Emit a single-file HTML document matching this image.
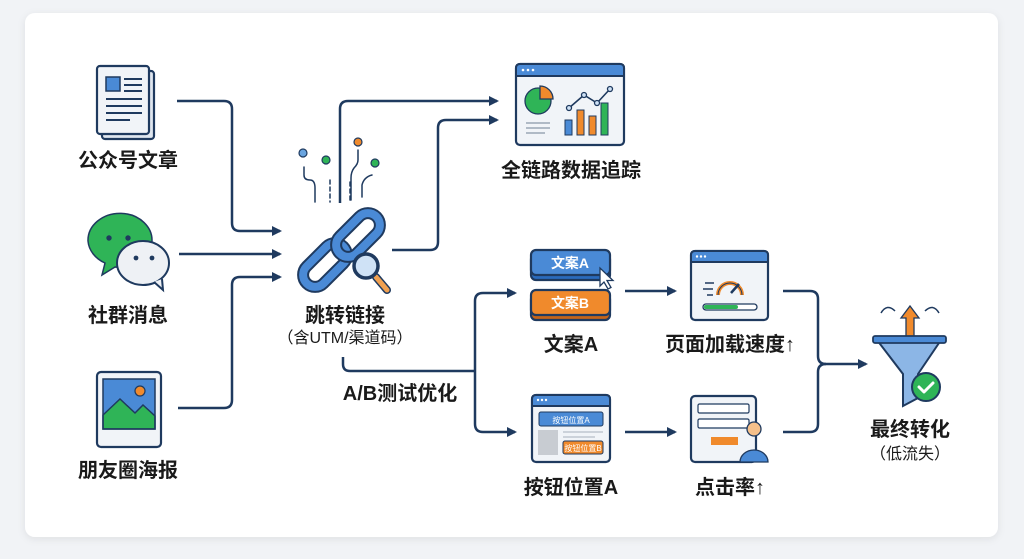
<!DOCTYPE html>
<html><head><meta charset="utf-8"><style>
html,body{margin:0;padding:0;background:#f1f3f6;}
svg{display:block;}
text{font-family:"Liberation Sans","Noto Sans CJK SC",sans-serif;fill:#1a1a1a;text-anchor:middle;}
.b{font-weight:bold;font-size:20px;}
.s{font-size:16px;}
.ln{fill:none;stroke:#1f3a5f;stroke-width:2.5;stroke-linejoin:round;}
.ol{stroke:#1f3a5f;stroke-width:2.2;}
</style></head><body>
<svg width="1024" height="559" viewBox="0 0 1024 559" xmlns="http://www.w3.org/2000/svg">
<defs>
<marker id="a" markerWidth="10" markerHeight="10" refX="8" refY="5" orient="auto" markerUnits="userSpaceOnUse"><path d="M0,0 L10,5 L0,10 Z" fill="#1f3a5f"/></marker>
<filter id="sh" x="-5%" y="-5%" width="110%" height="110%"><feDropShadow dx="0" dy="2" stdDeviation="4" flood-color="#000" flood-opacity="0.08"/></filter>
</defs>
<rect x="25" y="13" width="973" height="524" rx="10" fill="#fff" filter="url(#sh)"/>

<!-- connectors -->
<path class="ln" d="M177,101 H224 Q232,101 232,109 V223 Q232,231 240,231 H280" marker-end="url(#a)"/>
<path class="ln" d="M179,254 H280" marker-end="url(#a)"/>
<path class="ln" d="M178,408 H224 Q232,408 232,400 V285 Q232,277 240,277 H280" marker-end="url(#a)"/>
<path class="ln" d="M340,203 V109 Q340,101 348,101 H497" marker-end="url(#a)"/>
<path class="ln" d="M392,250 H430 Q438,250 438,242 V128 Q438,120 446,120 H497" marker-end="url(#a)"/>
<path class="ln" d="M343,357 V364 Q343,371 350,371 H475"/>
<path class="ln" d="M475,424 Q475,432 483,432 H515" marker-end="url(#a)"/>
<path class="ln" d="M475,424 V301 Q475,293 483,293 H515" marker-end="url(#a)"/>
<path class="ln" d="M625,291 H675" marker-end="url(#a)"/>
<path class="ln" d="M625,432 H675" marker-end="url(#a)"/>
<path class="ln" d="M783,291 H810 Q818,291 818,299 V356 Q818,364 826,364 H866" marker-end="url(#a)"/>
<path class="ln" d="M783,432 H810 Q818,432 818,424 V372 Q818,364 826,364"/>

<!-- doc icon -->
<rect x="102" y="71" width="52" height="68" rx="3" fill="#dfe6ef" class="ol"/>
<rect x="97" y="66" width="52" height="68" rx="3" fill="#f1f4f8" class="ol"/>
<rect x="106" y="77" width="14" height="14" fill="#4a8ad6" stroke="#1f3a5f" stroke-width="1.5"/>
<g stroke="#1f3a5f" stroke-width="2"><line x1="124" y1="79" x2="142" y2="79"/><line x1="124" y1="85" x2="142" y2="85"/><line x1="124" y1="91" x2="142" y2="91"/><line x1="106" y1="99" x2="142" y2="99"/><line x1="106" y1="106" x2="142" y2="106"/><line x1="106" y1="113" x2="142" y2="113"/><line x1="106" y1="120" x2="130" y2="120"/></g>
<text class="b" x="128" y="167">公众号文章</text>

<!-- chat icon -->
<path d="M88,241 a32,27 0 1 1 27,26 l-13,8 l3,-12 a32,27 0 0 1 -17,-22z" fill="#2fb457" stroke="#1f3a5f" stroke-width="1.5"/>
<circle cx="109" cy="238" r="2.7" fill="#1f3a5f"/><circle cx="128" cy="238" r="2.7" fill="#1f3a5f"/>
<ellipse cx="143" cy="263" rx="26" ry="22" fill="#eef1f5" stroke="#1f3a5f" stroke-width="2"/>
<path d="M154,282 l9,8 l-1,-11" fill="#eef1f5" stroke="#1f3a5f" stroke-width="2"/>
<circle cx="136" cy="258" r="2.4" fill="#1f3a5f"/><circle cx="152" cy="258" r="2.4" fill="#1f3a5f"/>
<text class="b" x="128" y="322">社群消息</text>

<!-- poster -->
<rect x="97" y="372" width="64" height="75" rx="4" fill="#f1f4f8" class="ol"/>
<rect x="103" y="379" width="52" height="50" fill="#4a8ad6"/>
<path d="M103,415 L120,399 L135,413 L143,405 L155,416 V429 H103Z" fill="#2fb457" stroke="#1f3a5f" stroke-width="1.5"/>
<circle cx="140" cy="391" r="5" fill="#f08a2c" stroke="#1f3a5f" stroke-width="1.2"/>
<rect x="103" y="379" width="52" height="50" fill="none" stroke="#1f3a5f" stroke-width="1.5"/>
<text class="b" x="128" y="477">朋友圈海报</text>

<!-- chain icon -->
<g fill="none" stroke-linecap="round">
<circle cx="303" cy="153" r="4" fill="#6aa5e0" stroke="#1f3a5f" stroke-width="1.2"/>
<circle cx="326" cy="160" r="4" fill="#2fb457" stroke="#1f3a5f" stroke-width="1.2"/>
<circle cx="358" cy="142" r="4" fill="#f08a2c" stroke="#1f3a5f" stroke-width="1.2"/>
<circle cx="375" cy="163" r="4" fill="#2fb457" stroke="#1f3a5f" stroke-width="1.2"/>
<g stroke="#1f3a5f" stroke-width="1.5"><path d="M304,167 v8 q0,5 6,5 q5,0 5,8 v14"/><path d="M330,180 v22" stroke-dasharray="4 3"/><path d="M358,150 v10 q0,4 -4,8 q-3,4 -3,10 v22"/><path d="M350,182 v20" stroke-dasharray="4 3"/><path d="M372,175 q-8,2 -10,10 v12"/></g>
<g transform="rotate(-45 325 265)"><rect x="299" y="253" width="52" height="24" rx="12" stroke="#1f3a5f" stroke-width="12"/><rect x="299" y="253" width="52" height="24" rx="12" stroke="#4a8ad6" stroke-width="8"/></g>
<g transform="rotate(-45 358 235)"><rect x="332" y="223" width="52" height="24" rx="12" stroke="#1f3a5f" stroke-width="12"/><rect x="332" y="223" width="52" height="24" rx="12" stroke="#4a8ad6" stroke-width="8"/></g>
<line x1="376" y1="277" x2="387" y2="290" stroke="#1f3a5f" stroke-width="8"/><line x1="376" y1="277" x2="387" y2="290" stroke="#f0a050" stroke-width="5"/>
<circle cx="366" cy="266" r="12" fill="#cfe2f6" stroke="#1f3a5f" stroke-width="3.5"/>
</g>
<text class="b" x="345" y="322">跳转链接</text>
<text class="s" x="345" y="343">（含UTM/渠道码）</text>
<text class="b" x="400" y="400">A/B测试优化</text>

<!-- dashboard -->
<rect x="516" y="64" width="108" height="81" rx="4" fill="#f1f4f8" class="ol"/>
<path d="M516,76 V68 Q516,64 520,64 H620 Q624,64 624,68 V76Z" fill="#4a8ad6" stroke="#1f3a5f" stroke-width="2"/>
<g fill="#fff"><circle cx="523" cy="70" r="1.3"/><circle cx="528" cy="70" r="1.3"/><circle cx="533" cy="70" r="1.3"/></g>
<circle cx="538" cy="101" r="13" fill="#2fb457" stroke="#1f3a5f" stroke-width="1.3"/>
<path d="M540,86 a13,13 0 0 1 13,13 h-13z" fill="#f08a2c" stroke="#1f3a5f" stroke-width="1.3"/>
<g stroke="#9aa6b5" stroke-width="1.5"><line x1="526" y1="123" x2="550" y2="123"/><line x1="526" y1="128" x2="550" y2="128"/><line x1="526" y1="133" x2="545" y2="133"/></g>
<rect x="565" y="120" width="7" height="15" fill="#4a8ad6" stroke="#1f3a5f" stroke-width="1"/>
<rect x="577" y="110" width="7" height="25" fill="#f08a2c" stroke="#1f3a5f" stroke-width="1"/>
<rect x="589" y="116" width="7" height="19" fill="#f08a2c" stroke="#1f3a5f" stroke-width="1"/>
<rect x="601" y="103" width="7" height="32" fill="#2fb457" stroke="#1f3a5f" stroke-width="1"/>
<polyline points="569,108 584,95 597,103 610,89" fill="none" stroke="#1f3a5f" stroke-width="1.6"/>
<g fill="#cfe2f6" stroke="#1f3a5f" stroke-width="1.3"><circle cx="569" cy="108" r="2.5"/><circle cx="584" cy="95" r="2.5"/><circle cx="597" cy="103" r="2.5"/><circle cx="610" cy="89" r="2.5"/></g>
<text class="b" x="571" y="177">全链路数据追踪</text>

<!-- 文案 buttons -->
<rect x="531" y="254" width="79" height="26" rx="5" fill="#2a6bbd" class="ol"/>
<rect x="531" y="250" width="79" height="25" rx="5" fill="#4a8ad6" class="ol"/>
<text x="570" y="268" style="font-size:14px;font-weight:bold;fill:#fff">文案A</text>
<path d="M600,268 l0,18 l4,-4 l4,7 l3,-1.5 l-4,-7 l6,0z" fill="#fff" stroke="#1f3a5f" stroke-width="1.3"/>
<rect x="531" y="294" width="79" height="26" rx="5" fill="#c4651a" class="ol"/>
<rect x="531" y="290" width="79" height="25" rx="5" fill="#f08a2c" class="ol"/>
<text x="570" y="308" style="font-size:14px;font-weight:bold;fill:#fff">文案B</text>
<text class="b" x="571" y="351">文案A</text>

<!-- speed page -->
<rect x="691" y="251" width="77" height="69" rx="4" fill="#f1f4f8" class="ol"/>
<path d="M691,262 V255 Q691,251 695,251 H764 Q768,251 768,255 V262Z" fill="#4a8ad6" stroke="#1f3a5f" stroke-width="2"/>
<g fill="#fff"><circle cx="697" cy="256.5" r="1.2"/><circle cx="701" cy="256.5" r="1.2"/><circle cx="705" cy="256.5" r="1.2"/></g>
<path d="M718,295 a12,12 0 0 1 24,0" fill="none" stroke="#f08a2c" stroke-width="4"/>
<path d="M718,295 a12,12 0 0 1 24,0" fill="none" stroke="#1f3a5f" stroke-width="1"/>
<line x1="731" y1="293" x2="739" y2="284" stroke="#1f3a5f" stroke-width="2.5"/>
<g stroke="#1f3a5f" stroke-width="1.5"><line x1="705" y1="283" x2="714" y2="283"/><line x1="703" y1="289" x2="713" y2="289"/><line x1="707" y1="295" x2="713" y2="295"/></g>
<rect x="703" y="304" width="54" height="6" rx="3" fill="#fff" stroke="#1f3a5f" stroke-width="1.3"/>
<rect x="704" y="305" width="34" height="4" rx="2" fill="#2fb457"/>
<text class="b" x="730" y="351">页面加载速度↑</text>

<!-- button position -->
<rect x="532" y="395" width="78" height="67" rx="4" fill="#f1f4f8" class="ol"/>
<path d="M532,406 V399 Q532,395 536,395 H606 Q610,395 610,399 V406Z" fill="#4a8ad6" stroke="#1f3a5f" stroke-width="2"/>
<g fill="#fff"><circle cx="538" cy="400" r="1.2"/><circle cx="542" cy="400" r="1.2"/><circle cx="546" cy="400" r="1.2"/></g>
<rect x="539" y="412" width="64" height="14" rx="2" fill="#4a8ad6" stroke="#1f3a5f" stroke-width="1"/>
<text x="571" y="423" style="font-size:8px;fill:#fff">按钮位置A</text>
<rect x="538" y="430" width="20" height="25" fill="#c8ccd2"/>
<g stroke="#b6bec8" stroke-width="1.3"><line x1="563" y1="432" x2="603" y2="432"/><line x1="563" y1="437" x2="595" y2="437"/></g>
<rect x="563" y="441" width="40" height="13" rx="2" fill="#f08a2c" stroke="#1f3a5f" stroke-width="1"/>
<text x="583" y="451" style="font-size:8px;fill:#fff">按钮位置B</text>
<text class="b" x="571" y="494">按钮位置A</text>

<!-- CTR form -->
<rect x="691" y="396" width="65" height="66" rx="4" fill="#f1f4f8" class="ol"/>
<rect x="698" y="404" width="51" height="9" rx="1.5" fill="#fff" stroke="#1f3a5f" stroke-width="1.2"/>
<rect x="698" y="419" width="51" height="9" rx="1.5" fill="#fff" stroke="#1f3a5f" stroke-width="1.2"/>
<rect x="711" y="437" width="27" height="8" fill="#f08a2c"/>
<circle cx="754" cy="429" r="7" fill="#f5c08a" stroke="#1f3a5f" stroke-width="1.3"/>
<path d="M740,462 a14,12 0 0 1 28,0z" fill="#4a8ad6" stroke="#1f3a5f" stroke-width="1.3"/>
<text class="b" x="730" y="494">点击率↑</text>

<!-- funnel -->
<path d="M881,313 q6,-10 14,-2 M939,313 q-6,-10 -14,-2" fill="none" stroke="#1f3a5f" stroke-width="1.5"/>
<path d="M906,340 V318 H901 L910,306 L919,318 H914 V340Z" fill="#f08a2c" stroke="#1f3a5f" stroke-width="1.3"/>
<path d="M877,340 H941 L918,374 V398 L903,406 V374Z" fill="#8cb6e6" stroke="#1f3a5f" stroke-width="2"/>
<rect x="873" y="336" width="73" height="7" rx="2" fill="#4a8ad6" stroke="#1f3a5f" stroke-width="1.8"/>
<circle cx="926" cy="387" r="14" fill="#2fb457" stroke="#1f3a5f" stroke-width="2"/>
<path d="M919,387 l5,5 l9,-9" fill="none" stroke="#fff" stroke-width="3" stroke-linecap="round" stroke-linejoin="round"/>
<text class="b" x="910" y="436">最终转化</text>
<text class="s" x="910" y="459">（低流失）</text>
</svg>
</body></html>
